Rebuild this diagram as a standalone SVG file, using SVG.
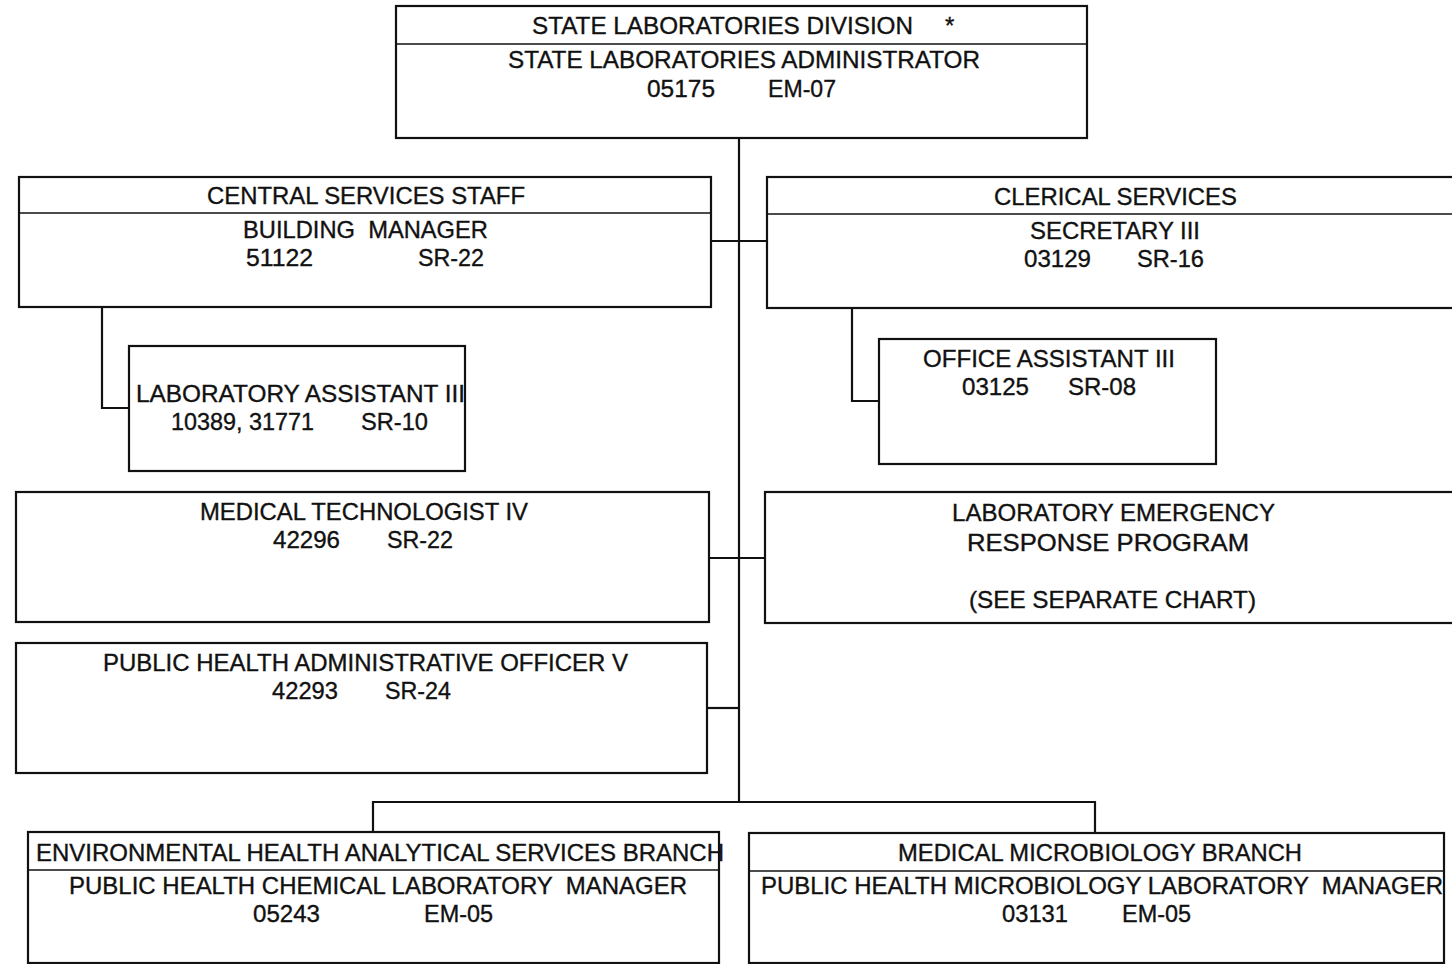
<svg xmlns="http://www.w3.org/2000/svg" width="1452" height="964" viewBox="0 0 1452 964">
  <style>
    .box { fill: #ffffff; stroke: #111111; stroke-width: 2.2; }
    .div { stroke: #111111; stroke-width: 1.5; }
    .wire { fill: none; stroke: #111111; stroke-width: 2.2; }
    text { font-family: "Liberation Sans", Arial, sans-serif; font-size: 24px; fill: #111111; stroke: #111111; stroke-width: 0.35; white-space: pre; }
  </style>
  <rect x="0" y="0" width="1452" height="964" fill="#ffffff"/>

  <!-- reporting lines -->
  <g id="connectors">
    <path class="wire" d="M739 138 V802"/>
    <path class="wire" d="M711 241 H767"/>
    <path class="wire" d="M102 307 V408 H129"/>
    <path class="wire" d="M852 308 V401 H879"/>
    <path class="wire" d="M709 558 H765"/>
    <path class="wire" d="M707 708 H739"/>
    <path class="wire" d="M373 832 V802 H1095 V833"/>
  </g>

  <g id="division">
    <rect class="box" x="396" y="6" width="691" height="132"/>
    <line class="div" x1="396" y1="44" x2="1087" y2="44"/>
    <text x="532" y="34" textLength="381" lengthAdjust="spacingAndGlyphs">STATE LABORATORIES DIVISION</text>
    <text x="945" y="34">*</text>
    <text x="508" y="68" textLength="472" lengthAdjust="spacingAndGlyphs">STATE LABORATORIES ADMINISTRATOR</text>
    <text x="647" y="97" textLength="68" lengthAdjust="spacingAndGlyphs">05175</text>
    <text x="768" y="97" textLength="68" lengthAdjust="spacingAndGlyphs">EM-07</text>
  </g>

  <g id="central-services">
    <rect class="box" x="19" y="177" width="692" height="130"/>
    <line class="div" x1="19" y1="213" x2="711" y2="213"/>
    <text x="207" y="204" textLength="318" lengthAdjust="spacingAndGlyphs">CENTRAL SERVICES STAFF</text>
    <text x="243" y="238" textLength="245" lengthAdjust="spacingAndGlyphs" xml:space="preserve">BUILDING  MANAGER</text>
    <text x="246" y="266" textLength="67" lengthAdjust="spacingAndGlyphs">51122</text>
    <text x="418" y="266" textLength="66" lengthAdjust="spacingAndGlyphs">SR-22</text>
  </g>

  <g id="clerical-services">
    <rect class="box" x="767" y="177" width="690" height="131"/>
    <line class="div" x1="767" y1="214" x2="1452" y2="214"/>
    <text x="994" y="205" textLength="243" lengthAdjust="spacingAndGlyphs">CLERICAL SERVICES</text>
    <text x="1030" y="239" textLength="170" lengthAdjust="spacingAndGlyphs">SECRETARY III</text>
    <text x="1024" y="267" textLength="67" lengthAdjust="spacingAndGlyphs">03129</text>
    <text x="1137" y="267" textLength="67" lengthAdjust="spacingAndGlyphs">SR-16</text>
  </g>

  <g id="lab-assistant">
    <rect class="box" x="129" y="346" width="336" height="125"/>
    <text x="136" y="402" textLength="329" lengthAdjust="spacingAndGlyphs">LABORATORY ASSISTANT III</text>
    <text x="171" y="430" textLength="143" lengthAdjust="spacingAndGlyphs">10389, 31771</text>
    <text x="361" y="430" textLength="67" lengthAdjust="spacingAndGlyphs">SR-10</text>
  </g>

  <g id="office-assistant">
    <rect class="box" x="879" y="339" width="337" height="125"/>
    <text x="923" y="367" textLength="252" lengthAdjust="spacingAndGlyphs">OFFICE ASSISTANT III</text>
    <text x="962" y="395" textLength="67" lengthAdjust="spacingAndGlyphs">03125</text>
    <text x="1068" y="395" textLength="68" lengthAdjust="spacingAndGlyphs">SR-08</text>
  </g>

  <g id="medical-technologist">
    <rect class="box" x="16" y="492" width="693" height="130"/>
    <text x="200" y="520" textLength="328" lengthAdjust="spacingAndGlyphs">MEDICAL TECHNOLOGIST IV</text>
    <text x="273" y="548" textLength="67" lengthAdjust="spacingAndGlyphs">42296</text>
    <text x="387" y="548" textLength="66" lengthAdjust="spacingAndGlyphs">SR-22</text>
  </g>

  <g id="emergency-response">
    <rect class="box" x="765" y="492" width="692" height="131"/>
    <text x="952" y="521" textLength="323" lengthAdjust="spacingAndGlyphs">LABORATORY EMERGENCY</text>
    <text x="967" y="551" textLength="282" lengthAdjust="spacingAndGlyphs">RESPONSE PROGRAM</text>
    <text x="969" y="608" textLength="287" lengthAdjust="spacingAndGlyphs">(SEE SEPARATE CHART)</text>
  </g>

  <g id="admin-officer">
    <rect class="box" x="16" y="643" width="691" height="130"/>
    <text x="103" y="671" textLength="525" lengthAdjust="spacingAndGlyphs">PUBLIC HEALTH ADMINISTRATIVE OFFICER V</text>
    <text x="272" y="699" textLength="66" lengthAdjust="spacingAndGlyphs">42293</text>
    <text x="385" y="699" textLength="66" lengthAdjust="spacingAndGlyphs">SR-24</text>
  </g>

  <g id="environmental-branch">
    <rect class="box" x="28" y="832" width="691" height="131"/>
    <line class="div" x1="28" y1="870" x2="719" y2="870"/>
    <text x="36" y="861" textLength="688" lengthAdjust="spacingAndGlyphs">ENVIRONMENTAL HEALTH ANALYTICAL SERVICES BRANCH</text>
    <text x="69" y="894" textLength="618" lengthAdjust="spacingAndGlyphs" xml:space="preserve">PUBLIC HEALTH CHEMICAL LABORATORY  MANAGER</text>
    <text x="253" y="922" textLength="67" lengthAdjust="spacingAndGlyphs">05243</text>
    <text x="424" y="922" textLength="69" lengthAdjust="spacingAndGlyphs">EM-05</text>
  </g>

  <g id="microbiology-branch">
    <rect class="box" x="749" y="833" width="695" height="130"/>
    <line class="div" x1="749" y1="871" x2="1444" y2="871"/>
    <text x="898" y="861" textLength="404" lengthAdjust="spacingAndGlyphs">MEDICAL MICROBIOLOGY BRANCH</text>
    <text x="761" y="894" textLength="682" lengthAdjust="spacingAndGlyphs" xml:space="preserve">PUBLIC HEALTH MICROBIOLOGY LABORATORY  MANAGER</text>
    <text x="1002" y="922" textLength="66" lengthAdjust="spacingAndGlyphs">03131</text>
    <text x="1122" y="922" textLength="69" lengthAdjust="spacingAndGlyphs">EM-05</text>
  </g>
</svg>
